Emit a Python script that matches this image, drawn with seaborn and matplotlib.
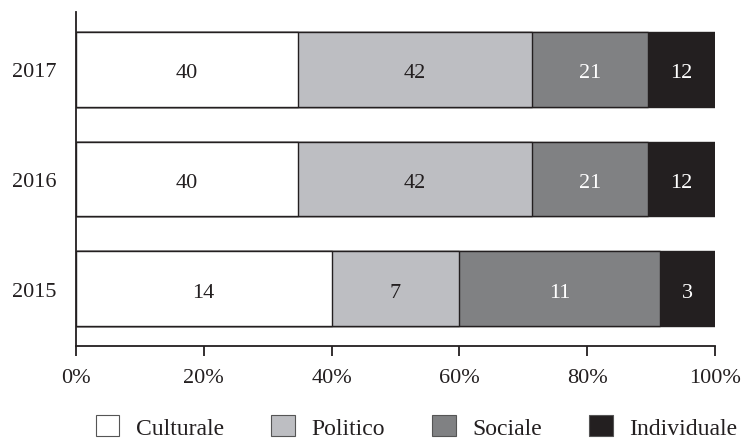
import numpy as np
import pandas as pd
import matplotlib.pyplot as plt
import seaborn as sns
from matplotlib.patches import Patch

sns.set_theme(style="white")
plt.rcParams['font.family'] = ['Liberation Serif', 'DejaVu Serif']

years = ["2017", "2016", "2015"]
categories = ["Culturale", "Politico", "Sociale", "Individuale"]
culturale = [40, 40, 14]
politico = [42, 42, 7]
sociale = [21, 21, 11]
individuale = [12, 12, 3]
colors = ["#ffffff", "#bdbec2", "#808183", "#231f20"]
text_colors = ["#231f20", "#231f20", "#ffffff", "#ffffff"]

counts = pd.DataFrame({"Culturale": culturale, "Politico": politico,
                       "Sociale": sociale, "Individuale": individuale}, index=years)
pct = counts.div(counts.sum(axis=1), axis=0) * 100
ends = pct.cumsum(axis=1)
starts = ends - pct

fig = plt.figure(figsize=(7.44, 4.39), dpi=100)
ax = fig.add_axes([0.102, 0.21, 0.859, 0.76])

# draw cumulative bars from the longest down so each segment sits on top
for i in reversed(range(len(categories))):
    cat = categories[i]
    df = pd.DataFrame({"year": years, "end": ends[cat].values})
    sns.barplot(data=df, x="end", y="year", order=years, orient="h",
                color=colors[i], saturation=1, width=0.68,
                edgecolor="#231f20", linewidth=1.0, ax=ax)

for i, cat in enumerate(categories):
    for j, yr in enumerate(years):
        mid = (starts.loc[yr, cat] + ends.loc[yr, cat]) / 2
        ax.text(mid, j + 0.03, str(counts.loc[yr, cat]), ha="center", va="center",
                fontsize=16, color=text_colors[i])

ax.set_xlim(0, 100)
ax.set_ylim(2.52, -0.52)
ax.set_xticks([0, 20, 40, 60, 80, 100])
ax.set_xticklabels([f"{t}%" for t in [0, 20, 40, 60, 80, 100]])
ax.set_xlabel("")
ax.set_ylabel("")
for s in ["top", "right"]:
    ax.spines[s].set_visible(False)
for s in ["left", "bottom"]:
    ax.spines[s].set_color("#231f20")
    ax.spines[s].set_linewidth(1.3)
ax.tick_params(axis="x", direction="out", length=7, width=1.3, color="#231f20",
               labelsize=16, pad=9, labelcolor="#231f20", bottom=True)
ax.tick_params(axis="y", length=0, labelsize=16, pad=14, labelcolor="#231f20")

handles = [Patch(facecolor=c, edgecolor="#555555", linewidth=0.8) for c in colors]
fig.legend(handles, categories, loc="lower center", bbox_to_anchor=(0.56, -0.05),
           ncol=4, frameon=False, fontsize=17, handlelength=1.0, handleheight=1.0,
           handletextpad=0.7, columnspacing=2.0, labelcolor="#231f20")

fig.savefig("out.png", dpi=100)
